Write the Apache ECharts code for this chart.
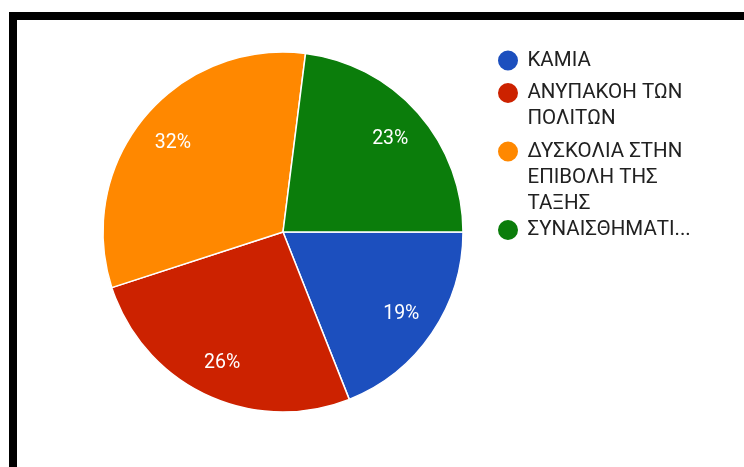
<!DOCTYPE html>
<html>
<head>
<meta charset="utf-8">
<script src="https://cdn.jsdelivr.net/npm/echarts@6/dist/echarts.min.js"></script>
<style>
  html, body { margin: 0; padding: 0; background: #fff; }
  #wrap { position: relative; width: 744px; height: 467px; overflow: hidden; background: #fff; }
  #chart { position: absolute; left: 0; top: 0; width: 744px; height: 467px; }
  #frame {
    position: absolute; left: 9px; top: 12px; right: 0; bottom: 0;
    border-top: 8px solid #000; border-left: 8px solid #000;
    pointer-events: none;
  }
</style>
</head>
<body>
<div id="wrap"><div id="chart"></div><div id="frame"></div></div>
<script>
// Answer categories (line breaks as shown in the legend)
const categories = [
  'ΚΑΜΙΑ',
  'ΑΝΥΠΑΚΟΗ ΤΩΝ\nΠΟΛΙΤΩΝ',
  'ΔΥΣΚΟΛΙΑ ΣΤΗΝ\nΕΠΙΒΟΛΗ ΤΗΣ\nΤΑΞΗΣ',
  'ΣΥΝΑΙΣΘΗΜΑΤΙ...'
];
// Share of responses, percent
const shares = [19, 26, 32, 23];
const colors = ['#1c4fbe', '#cc2200', '#ff8800', '#0b7d0b'];

// Layout
const CENTER = [283, 232];
const RADIUS = 180;
const LINE_H = 26;
// vertical centre of each legend entry's first line
const legendRows = [60.5, 93, 151.5, 230];

const chart = echarts.init(document.getElementById('chart'), null, { renderer: 'canvas' });

const pieData = categories.map((name, i) => ({
  name: name,
  value: shares[i],
  itemStyle: { color: colors[i] }
}));

const lineCount = (name) => name.split('\n').length;

// One legend block per entry so that the dot sits beside the first line
const legends = categories.map((name, i) => {
  const n = lineCount(name);
  return {
    orient: 'vertical',
    left: 496,
    top: legendRows[i] - (2 * n - 1) * LINE_H / 2,
    padding: 0,
    icon: 'circle',
    itemWidth: 29,
    itemHeight: 22,
    textStyle: { fontFamily: 'Roboto', fontSize: 20.5, color: '#212121', lineHeight: LINE_H },
    // blank lines above balance the wrapped lines below, centring the first line on the dot
    formatter: (label) => '\n'.repeat(lineCount(label) - 1) + label,
    data: [name]
  };
});

chart.setOption({
  animation: false,
  backgroundColor: '#fff',
  legend: legends,
  series: [
    {
      // slices
      type: 'pie',
      center: CENTER,
      radius: [0, RADIUS],
      startAngle: 0,
      clockwise: true,
      label: { show: false },
      labelLine: { show: false },
      emphasis: { disabled: true },
      itemStyle: { borderColor: '#fff', borderWidth: 1.5 },
      data: pieData
    },
    {
      // percentage labels, placed in the outer part of each slice
      type: 'pie',
      center: CENTER,
      radius: [100, RADIUS],
      startAngle: 0,
      clockwise: true,
      silent: true,
      emphasis: { disabled: true },
      itemStyle: { color: 'rgba(0,0,0,0)', borderWidth: 0 },
      labelLine: { show: false },
      label: {
        show: true,
        position: 'inner',
        formatter: '{c}%',
        color: '#fff',
        fontFamily: 'Roboto',
        fontSize: 19.5,
        offset: [0, 2]
      },
      data: categories.map((name, i) => ({ name: name, value: shares[i] }))
    }
  ]
});
</script>
</body>
</html>
